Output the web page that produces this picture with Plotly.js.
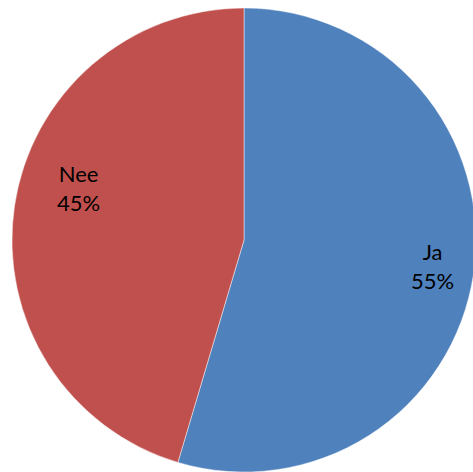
<!DOCTYPE html>
<html>
<head>
<meta charset="utf-8">
<script src="https://cdn.plot.ly/plotly-3.0.1.min.js"></script>
<style>
html,body{margin:0;padding:0;overflow:hidden;background:#fff;width:473px;height:472px;}
#chart{width:488px;height:480px;}
</style>
</head>
<body>
<div id="chart"></div>
<script>
var categories = ["Ja", "Nee"];
var values = [54.6, 45.4];
var colors = ["#4F81BD", "#C0504D"];

var W = 488, H = 480;
var labelPos = [[432, 266], [78, 188]]; // pixel centres of the data labels

var total = values.reduce(function (a, b) { return a + b; }, 0);
var annotations = categories.map(function (c, i) {
  return {
    xref: "paper", yref: "paper",
    x: labelPos[i][0] / W, y: 1 - labelPos[i][1] / H,
    xanchor: "center", yanchor: "middle",
    text: c + "<br>" + Math.round(values[i] / total * 100) + "%",
    showarrow: false,
    align: "center",
    font: {family: "Lato, 'Open Sans', sans-serif", size: 22, color: "#000000"}
  };
});

var trace = {
  type: "pie",
  labels: categories,
  values: values,
  sort: false,
  direction: "clockwise",
  rotation: 0,
  marker: {colors: colors, line: {color: "rgba(255,255,255,0.45)", width: 1}},
  textinfo: "none",
  hoverinfo: "none",
  domain: {x: [12 / W, 476 / W], y: [8 / H, 472 / H]}
};
var layout = {
  width: W, height: H,
  margin: {l: 0, r: 0, t: 0, b: 0},
  showlegend: false,
  paper_bgcolor: "#ffffff",
  plot_bgcolor: "#ffffff",
  annotations: annotations
};
Plotly.newPlot("chart", [trace], layout, {displayModeBar: false, staticPlot: true});
</script>
</body>
</html>
